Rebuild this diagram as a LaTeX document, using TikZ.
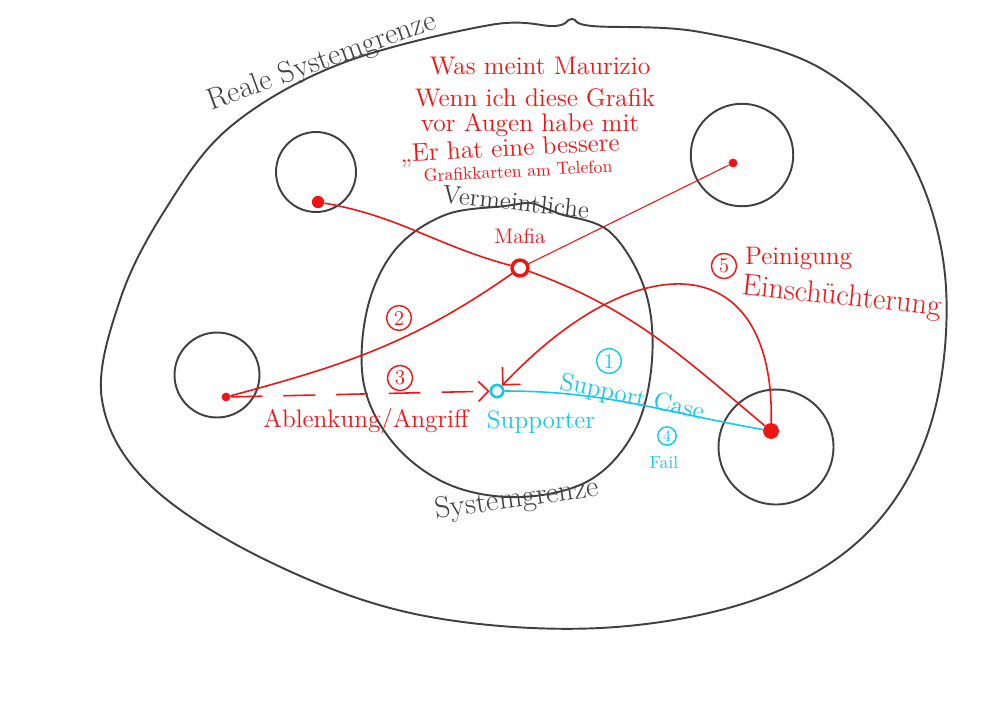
\documentclass[tikz,border=0pt]{standalone}
\usepackage{fontspec}
\usepackage{xcolor}
\usepackage{tikz}
\usetikzlibrary{arrows.meta, positioning, calc}
\definecolor{pencilgray}{RGB}{64, 64, 64}
\definecolor{markerred}{RGB}{240, 20, 20}
\definecolor{markercyan}{RGB}{20, 200, 235}

\begin{document}
\begin{tikzpicture}[
    x=0.02cm, y=-0.02cm,
    boundary/.style={draw=pencilgray, line width=1.1pt},
    person/.style={circle, draw=pencilgray, line width=1.1pt, inner sep=0pt},
    actor/.style={circle, fill=markerred, inner sep=0pt, minimum size=7pt},
    redline/.style={draw=markerred, line width=0.9pt},
    cyanline/.style={draw=markercyan, line width=0.9pt},
    pencil/.style={text=pencilgray, font=\LARGE, inner sep=1pt},
    rednote/.style={text=markerred, font=\Large, inner sep=1pt},
    cyannote/.style={text=markercyan, font=\Large, inner sep=1pt},
    question/.style={text=markerred, font=\fontsize{14.5}{16}\selectfont, inner sep=0pt},
    stepnum/.style={circle, draw, line width=0.8pt, inner sep=1.5pt, font=\large}
]
    \useasboundingbox (0,0) rectangle (1000,707);

    % Real system boundary
    \draw[boundary] plot[smooth cycle, tension=0.6] coordinates {
        (490,25) (555,26) (572,19) (592,26) (700,32) (820,68) (905,150)
        (945,275) (932,420) (870,530) (760,598) (600,628) (420,615)
        (270,562) (150,485) (102,400) (120,300) (165,210) (230,127) (340,64)};

    % Supposed system boundary (Mafia)
    \draw[boundary] plot[smooth cycle, tension=0.6] coordinates {
        (505,206) (530,203) (545,208) (560,214) (610,232) (645,290) (652,360)
        (635,430) (590,480) (520,497) (450,485) (395,445) (364,385)
        (367,310) (395,250) (445,215)};

    % Persons around the Mafia
    \node[person, minimum size=1.6cm] (headTL) at (316,172) {};
    \node[person, minimum size=2.05cm] (headTR) at (742,155) {};
    \node[person, minimum size=1.7cm] (headL) at (217,375) {};
    \node[person, minimum size=2.3cm] (headBR) at (776,447) {};

    % Actors
    \node[actor] (dotTL) at (318,202) {};
    \node[actor, minimum size=5pt] (dotTR) at (733,163) {};
    \node[actor, minimum size=5pt] (dotL) at (226,397) {};
    \node[actor, minimum size=9pt] (dotBR) at (771,431) {};
    \node[circle, draw=markerred, line width=2pt, inner sep=0pt, minimum size=9pt] (mafia) at (520,268) {};
    \node[circle, draw=markercyan, line width=1.5pt, inner sep=0pt, minimum size=7pt] (supporter) at (497,391) {};

    % Connections
    \draw[redline] (dotTL) to[out=-10, in=165] (mafia);
    \draw[redline] (mafia) to[out=-20, in=140] (dotBR);
    \draw[redline, line width=0.6pt] (dotTR) -- (mafia);
    \draw[redline] (mafia) to[out=-145, in=15] (dotL);
    \draw[redline, dash pattern=on 18pt off 12pt, -{Straight Barb[length=2mm]}] (dotL) -- (supporter);
    \draw[redline, -{Straight Barb[length=2.5mm]}] (dotBR) .. controls (775,250) and (640,240) .. (supporter);
    \draw[cyanline] (supporter) to[out=0, in=170] (dotBR);

    % Labels
    \node[pencil, rotate=20] (reale) at (322,62) {Reale Systemgrenze};
    \node[pencil, font=\Large, rotate=-6] (vermeintlich) at (516,202) {Vermeintliche};
    \node[pencil, rotate=8] (systemgrenze) at (517,500) {Systemgrenze};
    \node[rednote, font=\large] (mafiatext) at (520,236) {Mafia};

    \node[question] (q1) at (540,66) {Was meint Maurizio};
    \node[question] (q2) at (535,98) {Wenn ich diese Grafik};
    \node[question] (q3) at (530,125) {vor Augen habe mit};
    \node[question, rotate=3] (q4) at (510,150) {„Er hat eine bessere};
    \node[rednote, font=\normalsize, rotate=3] (q5) at (518,171) {Grafikkarten am Telefon};

    \node[stepnum, markerred] (two) at (399,318) {2};
    \node[stepnum, markerred] (three) at (400,378) {3};
    \node[rednote] (ablenkung) at (366,421) {Ablenkung/Angriff};
    \node[cyannote] (supportertext) at (541,422) {Supporter};
    \node[stepnum, markercyan] (one) at (609,361) {1};
    \node[cyannote, rotate=-12] (supportcase) at (632,398) {Support Case};
    \node[stepnum, markercyan, font=\small, inner sep=1pt] (four) at (667,436) {4};
    \node[cyannote, font=\normalsize] (fail) at (664,462) {Fail};

    \node[stepnum, markerred] (five) at (724,266) {5};
    \node[rednote, anchor=west] (peinigung) at (743,258) {Peinigung};
    \node[rednote, font=\LARGE, anchor=west, rotate=-6] (einschuechterung) at (740,287) {Einschüchterung};
\end{tikzpicture}
\end{document}
